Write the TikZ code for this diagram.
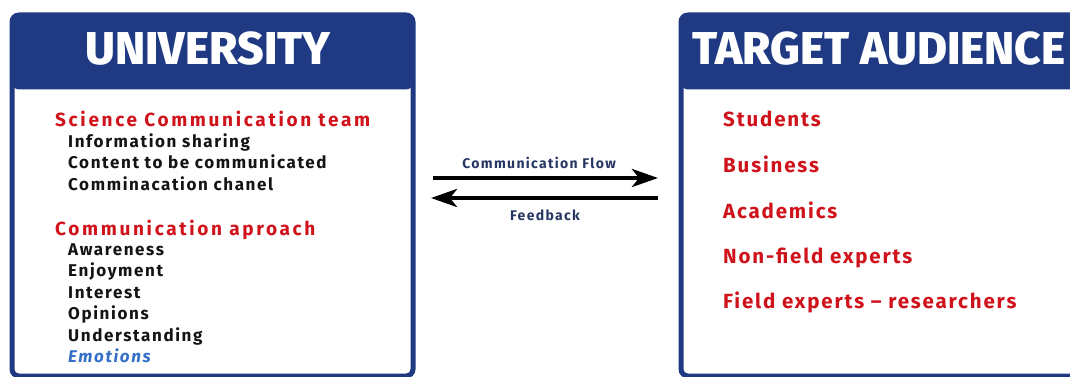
\documentclass[tikz,border=0pt]{standalone}
\usepackage{fontspec}
\setmainfont{Fira Sans}
\newfontfamily\titlefont{Fira Sans ExtraBold}
\usetikzlibrary{arrows.meta}

\definecolor{headblue}{RGB}{31,58,130}
\definecolor{headred}{RGB}{208,18,27}
\definecolor{itemblack}{RGB}{20,20,20}
\definecolor{emoblue}{RGB}{52,112,200}
\definecolor{flownavy}{RGB}{38,55,100}

\tikzset{
  panel/.style={draw=headblue, line width=5pt, fill=white, rounded corners=7pt,
    anchor=north west, inner sep=0pt,
    path picture={\fill[headblue] (path picture bounding box.north west)
      rectangle ([yshift=-74.5pt]path picture bounding box.north east);}},
  title/.style={anchor=base, text=white, font=\fontsize{46}{48}\selectfont\titlefont, inner sep=0pt},
  group/.style={anchor=base west, text=headred, inner sep=0pt,
    font=\fontsize{19}{21}\selectfont\bfseries\addfontfeature{LetterSpace=14}},
  item/.style={anchor=base west, text=itemblack, inner sep=0pt,
    font=\fontsize{17}{19}\selectfont\bfseries\addfontfeature{LetterSpace=9.5}},
  target/.style={anchor=base west, text=headred, inner sep=0pt,
    font=\fontsize{20.5}{22}\selectfont\bfseries\addfontfeature{LetterSpace=9}},
  flowlabel/.style={anchor=base, text=flownavy, inner sep=0pt,
    font=\fontsize{14}{16}\selectfont\bfseries\addfontfeature{LetterSpace=9.5}},
  flow/.style={line width=4pt, -{Stealth[length=26pt,width=18pt,inset=7pt]}}
}

\begin{document}
\begin{tikzpicture}[x=1pt,y=-1pt]
  \useasboundingbox (0,0) rectangle (1070,377);

  % the two panels
  \node[panel, minimum width=401pt, minimum height=361pt] (uni) at (9.5,12.5) {};
  \node[panel, minimum width=397pt, minimum height=361pt] (aud) at (678.5,12.5) {};

  \node[title] (unititle) at (208,65) {UNIVERSITY};
  \node[title] (audtitle) at (879,65) {TARGET AUDIENCE};

  % university side
  \node[group] (team) at (55,126) {Science Communication team};
  \node[item] (t1) at (68,147) {Information sharing};
  \node[item] (t2) at (68,168.5) {Content to be communicated};
  \node[item] (t3) at (68,190) {Comminacation chanel};

  \node[group] (approach) at (55,235) {Communication aproach};
  \node[item] (a1) at (68,255) {Awareness};
  \node[item] (a2) at (68,276.5) {Enjoyment};
  \node[item] (a3) at (68,298) {Interest};
  \node[item] (a4) at (68,319.5) {Opinions};
  \node[item] (a5) at (68,341) {Understanding};
  \node[item, text=emoblue, font=\fontsize{17}{19}\selectfont\bfseries\itshape\addfontfeature{LetterSpace=9.5}] (a6) at (68,362.5) {Emotions};

  % audience side
  \node[target] (g1) at (723,127) {Students};
  \node[target] (g2) at (723,172.5) {Business};
  \node[target] (g3) at (723,218) {Academics};
  \node[target] (g4) at (723,263.5) {Non-field experts};
  \node[target] (g5) at (723,308.5) {Field experts – researchers};

  % flow between the panels
  \coordinate (fwdfrom) at (433,178);
  \coordinate (fwdto) at (658,178);
  \coordinate (backfrom) at (658,198);
  \coordinate (backto) at (431,198);
  \node[flowlabel] (fwdlabel) at (539,168) {Communication Flow};
  \node[flowlabel] (backlabel) at (545,220) {Feedback};
  \begin{scope}[flow]
    \draw (fwdfrom) -- (fwdto);
    \draw (backfrom) -- (backto);
  \end{scope}
\end{tikzpicture}
\end{document}
